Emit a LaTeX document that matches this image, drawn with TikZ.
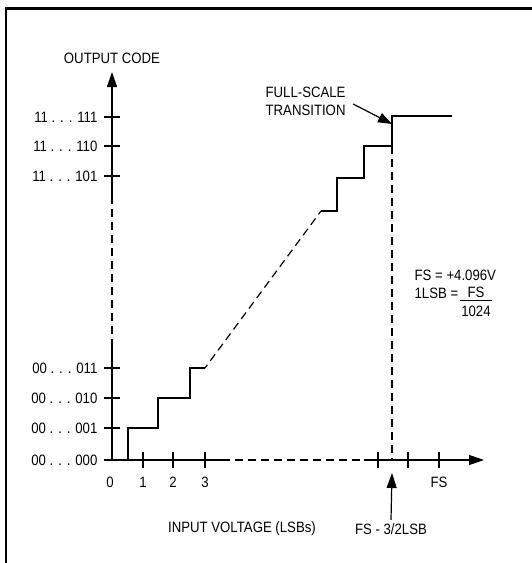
\documentclass[tikz,border=0pt]{standalone}
\usepackage{fontspec}
\setmainfont{Liberation Sans}[FakeStretch=0.88]
\usetikzlibrary{arrows.meta}
\begin{document}
\begin{tikzpicture}[x=1pt,y=-1pt,line width=1.2pt,
   txt/.style={font=\fontsize{15}{18}\selectfont,inner sep=1pt},
   bigarrow/.style={-{Triangle[length=15pt,width=10pt]}},
   dsh/.style={dash pattern=on 8pt off 5pt}]
         \useasboundingbox (0,0) rectangle (532,563) ;
         \draw[line width=2.5pt] (6,563) -- (6,8.5) -- (532,8.5) ; % frame
         % y axis
         \draw (112,460) -- (112,347) ;
         \draw[dsh] (112,347) -- (112,200) ;
         \node[txt] (ycap) at (112,58) {OUTPUT CODE} ;
         \coordinate (ytip) at (112,72) ;
         \draw[bigarrow] (112,200) -- (ytip) ;
         \foreach \y/\t in {117/11 . . . 111,146/11 . . . 110,176/11 . . . 101,
                            368/00 . . . 011,398/00 . . . 010,428/00 . . . 001,460/00 . . . 000}
            \draw (104,\y) -- (120,\y) node[txt,anchor=east] at (99,\y) {\t} ;
         % x axis
         \draw (112,460) -- (222,460) ;
         \draw[dsh] (222,460) -- (364,460) ;
         \coordinate (xtip) at (484,460) ;
         \draw[bigarrow] (364,460) -- (xtip) ;
         \foreach \x in {143,173,205,378,408,439}
            \draw (\x,452) -- (\x,468) ;
         \foreach \x/\t in {110/0,143/1,173/2,205/3,439/FS}
            \node[txt] at (\x,482) {\t} ;
         \node[txt] (xcap) at (242,529) {INPUT VOLTAGE (LSBs)} ;
         % transfer function
         \draw (128,460) |- (158,428) |- (190,398) |- (205,368) ;
         \draw[dsh,dash phase=4pt] (205,368) -- (321,211) ;
         \draw (321,211) -- (337,211) |- (364,178) |- (392,146) |- (452,116) ;
         \draw[dsh] (392,146) -- (392,460) ;
         % full scale transition
         \node[txt,anchor=west,align=left] (fst) at (264,101) {FULL-SCALE\\TRANSITION} ;
         \coordinate (fstip) at (392,124) ;
         \draw[-{Triangle[length=14pt,width=10pt]}] ([xshift=6pt,yshift=-3pt]fst.east) -- (fstip) ;
         \node[txt] (fsl) at (391,529) {FS - 3/2LSB} ;
         \coordinate (fsltip) at (392,473) ;
         \draw[bigarrow] ([yshift=2pt]fsl.north) -- (fsltip) ;
         % FS and LSB values
         \node[txt,anchor=west] (fsv) at (413,275) {FS = +4.096V} ;
         \node[txt,anchor=west] (lsb) at (413,293) {1LSB =} ;
         \node[txt] (num) at (476,292) {FS} ;
         \node[txt] (den) at (476,311) {1024} ;
         \draw[line width=1pt] (460,300) -- (492,300) ;
      \end{tikzpicture}
\end{document}
